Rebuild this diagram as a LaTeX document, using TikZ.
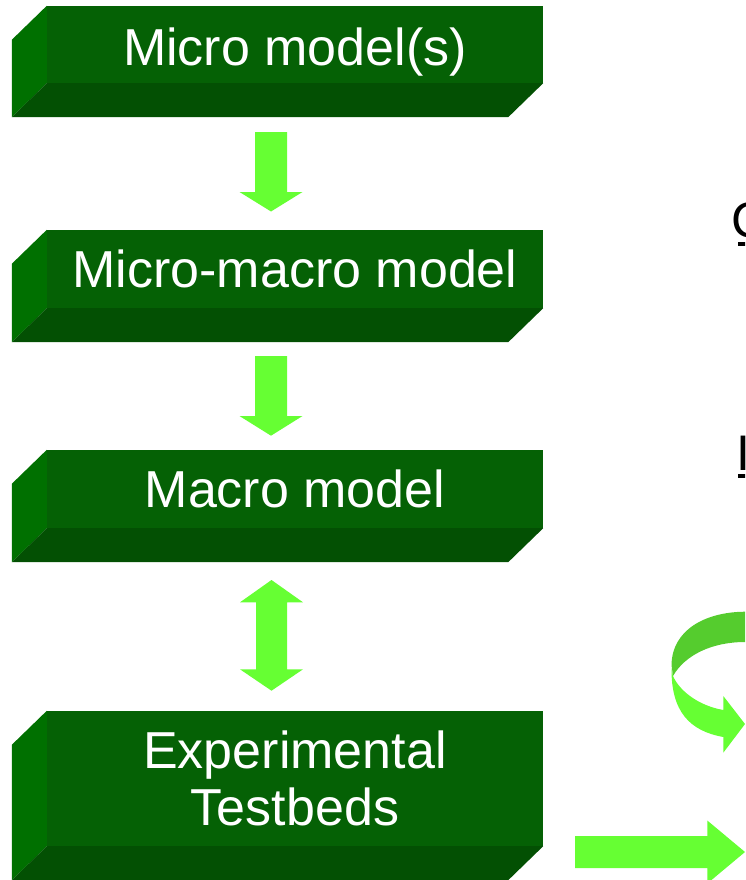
\documentclass[tikz,border=0pt]{standalone}
\usepackage{fontspec}
\setmainfont{Liberation Sans}
\definecolor{slabfront}{RGB}{5,97,5}
\definecolor{slabside}{RGB}{0,112,0}
\definecolor{slabbottom}{RGB}{3,80,3}
\definecolor{arrowlime}{RGB}{102,255,51}
\definecolor{arrowshade}{RGB}{85,204,46}
\begin{document}
\begin{tikzpicture}[x=1pt,y=-1pt,
  slab/.style={rectangle, fill=slabfront, minimum width=496pt, inner sep=0pt,
    text=white, align=center, font=\fontsize{52}{57}\selectfont},
  oneline/.style={text height=37pt, text depth=0pt},
  blockarrow/.style={fill=arrowlime},
  sidehead/.style={anchor=base west, inner sep=0pt, text=black,
    font=\fontsize{50}{60}\selectfont}]
\clip (0,0) rectangle (745,880);

% front faces of the four slabs
\node[slab, oneline, minimum height=77pt] (micro) at (295,44.5) {};
\node[oneline, inner sep=0pt, text=white, font=\fontsize{52}{57}\selectfont]
  (microlabel) at (295,47) {Micro model(s)};
\node[slab, oneline, minimum height=78pt] (micromacro) at (295,269) {Micro-macro model};
\node[slab, oneline, minimum height=78pt] (macro)      at (295,489) {Macro model};
\node[slab, minimum height=135pt] (testbeds)  at (295,778.5) {Experimental\\Testbeds};

% bevelled left and bottom faces
\foreach \b in {micro,micromacro,macro,testbeds}{
  \fill[slabside] (\b.north west) -- ++(-35,34)
    -- ([shift={(-35,34)}]\b.south west) -- (\b.south west) -- cycle;
  \fill[slabbottom] (\b.south west) -- ++(-35,34)
    -- ([shift={(-35,34)}]\b.south east) -- (\b.south east) -- cycle;
}

% block arrows between the slabs
\coordinate (a1top) at (271,132);   \coordinate (a1tip) at (271,211.5);
\coordinate (a2top) at (271,356);   \coordinate (a2tip) at (271,435.7);
\coordinate (dtop)  at (271.5,580); \coordinate (dbot)  at (271.5,690.7);
\coordinate (rstart) at (575,852);  \coordinate (rtip)  at (745,852);

\fill[blockarrow] (a1top) ++(-16,0) -- ++(32,0) -- ++(0,60) -- ++(15.5,0)
  -- (a1tip) -- ++(-31.5,-19.5) -- ++(15.5,0) -- cycle;
\fill[blockarrow] (a2top) ++(-16,0) -- ++(32,0) -- ++(0,60) -- ++(15.5,0)
  -- (a2tip) -- ++(-31.5,-19.7) -- ++(15.5,0) -- cycle;
\fill[blockarrow] (dtop) -- ++(31.5,22.3) -- ++(-16,0) -- ++(0,67) -- ++(16,0)
  -- (dbot) -- ++(-31.5,-21.4) -- ++(16,0) -- ++(0,-67) -- ++(-16,0) -- cycle;
\fill[blockarrow] (rstart) ++(0,-16) -- ++(132.3,0) -- ++(0,-15.5) -- (rtip)
  -- ++(-37.7,31.5) -- ++(0,-15.5) -- ++(-132.3,0) -- cycle;

% curled arrow: front (light) band first, back (shaded) band over it
\coordinate (ctip) at (745,724);
\fill[arrowlime] (671.5,668) .. controls (671,712) and (690,731) .. (723.3,737)
  -- (723.3,752.7) -- (ctip) -- (723.3,696) -- (723.3,710)
  .. controls (700,706) and (680,692) .. (673,676) -- cycle;
\fill[arrowshade] (745,611.7) .. controls (705,612) and (672,630) .. (671.5,665)
  -- (673,676) .. controls (685,655) and (712,642) .. (745,642) -- cycle;

% underlined headings at the right edge
\node[sidehead] (goalhead) at (731,237) {C};
\fill (738,242) rectangle (746,246);
\node[sidehead] (listhead) at (736.5,470) {I};
\fill (737.7,473.5) rectangle (746,478);
\end{tikzpicture}
\end{document}
